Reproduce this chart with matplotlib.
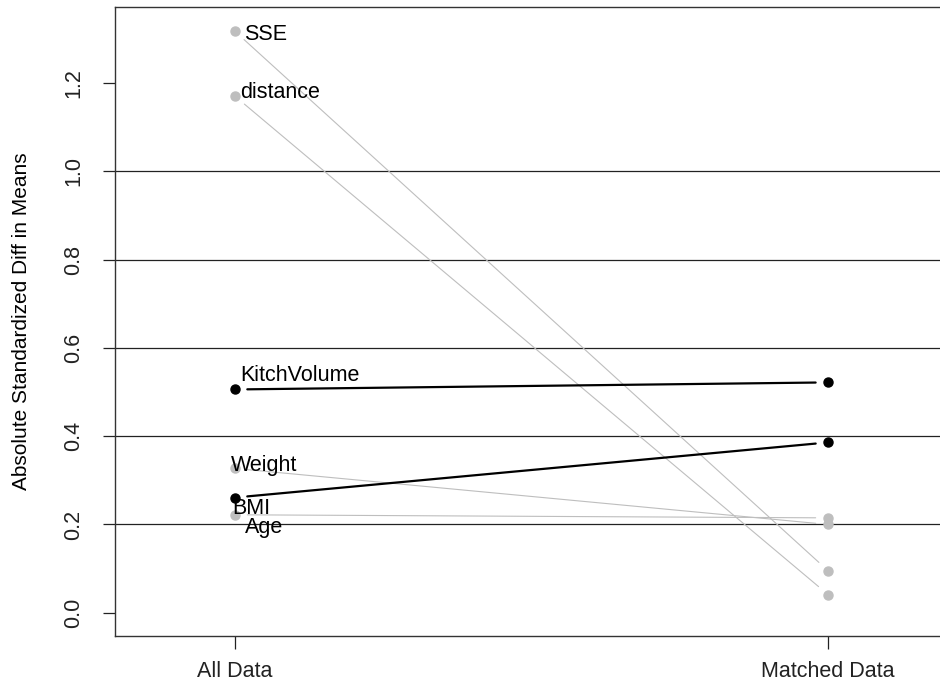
import numpy as np
import matplotlib
matplotlib.use("Agg")
from matplotlib import pyplot as plt

plt.rcParams['font.family'] = ['Liberation Sans', 'DejaVu Sans']

# data
groups = ['All Data', 'Matched Data']
variables = ['SSE', 'distance', 'KitchVolume', 'Weight', 'BMI', 'Age']
all_data = [1.318, 1.171, 0.506, 0.327, 0.261, 0.222]
matched = [0.095, 0.041, 0.522, 0.200, 0.386, 0.215]
y_ticks = [0.0, 0.2, 0.4, 0.6, 0.8, 1.0, 1.2]
ref_lines = [0.2, 0.4, 0.6, 0.8, 1.0]

# styling: black = imbalance got worse
worse = [m > a for a, m in zip(all_data, matched)]
# label nudges in points (dx, dy of baseline from the point)
label_nudge = [(7, -6), (3.5, -1.5), (4, 6), (-2.5, -1.5), (-2, -12), (7, -13)]

fig = plt.figure(figsize=(9.4, 6.87), dpi=100)
ax = fig.add_axes([0.1223, 0.0742, 0.8862, 0.9156])

x = np.arange(1, len(groups) + 1)

for h in ref_lines:
    ax.axhline(h, color='#222222', lw=0.9, zorder=1)

for i, var in enumerate(variables):
    col = 'black' if worse[i] else '#BEBEBE'
    lw = 1.6 if worse[i] else 0.8
    ax.annotate('', xy=(x[1], matched[i]), xytext=(x[0], all_data[i]),
                arrowprops=dict(arrowstyle='-', color=col, lw=lw,
                                shrinkA=9, shrinkB=9), zorder=2)
    ax.plot(x, [all_data[i], matched[i]], ls='none', marker='o',
            ms=6.5, color=col, mec=col, zorder=3)
    dx, dy = label_nudge[i]
    ax.annotate(var, xy=(x[0], all_data[i]), xytext=(dx, dy),
                textcoords='offset points', ha='left', va='baseline',
                fontsize=15.5, color='black', zorder=4)

ax.set_xlim(0.798, 2.202)
ax.set_ylim(-0.0528, 1.3728)
ax.set_xticks(x)
ax.set_xticklabels(groups, fontsize=15.5)
ax.set_yticks(y_ticks)
ax.set_yticklabels(['%.1f' % v for v in y_ticks], fontsize=15.5,
                   rotation=90, va='center')
ax.tick_params(axis='y', length=9, width=0.9, pad=13, colors='#222222')
ax.tick_params(axis='x', length=9, width=0.9, pad=9, colors='#222222')
ax.spines['right'].set_visible(False)
for s in ['left', 'top', 'bottom']:
    ax.spines[s].set_linewidth(1.0)
    ax.spines[s].set_color('#333333')

fig.text(22 / 940, 0.532, 'Absolute Standardized Diff in Means',
         rotation=90, ha='center', va='center', fontsize=15)

fig.savefig('out.png', dpi=100)
